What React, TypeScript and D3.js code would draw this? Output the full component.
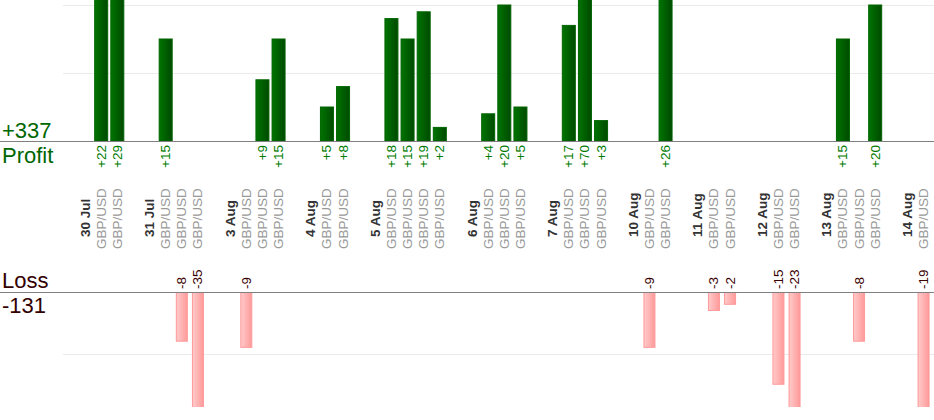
import React, { useEffect, useRef } from 'react';
import * as d3 from 'd3';

// trading days, and the closed trades of each day (all GBP/USD)
const dates = ['30 Jul', '31 Jul', '3 Aug', '4 Aug', '5 Aug', '6 Aug', '7 Aug', '10 Aug', '11 Aug', '12 Aug', '13 Aug', '14 Aug'];
const pair = 'GBP/USD';
const results: number[][] = [
  [22, 29],
  [15, -8, -35],
  [-9, 9, 15],
  [5, 8],
  [18, 15, 19, 2],
  [4, 20, 5],
  [17, 70, 3],
  [-9, 26],
  [-3, -2],
  [-15, -23],
  [15, -8, 20],
  [-19],
];
const profitTicks = [10, 20];
const lossTicks = [10, 20];

type Slot = { id: string; kind: 'date' | 'trade' | 'gap'; label?: string; value?: number };

const FONT = '"Liberation Sans", Arial, sans-serif';

const App: React.FC = () => {
  const ref = useRef<SVGSVGElement | null>(null);

  useEffect(() => {
    if (!ref.current) return;
    const width = 934;
    const height = 420;
    const plotLeft = 63;

    const svg = d3.select(ref.current).attr('width', width).attr('height', height);
    svg.selectAll('*').remove();

    // one slot per date header, per trade, and a spacer after each day
    const slots: Slot[] = [];
    dates.forEach((d, i) => {
      slots.push({ id: `d${i}`, kind: 'date', label: d });
      results[i].forEach((v, j) => slots.push({ id: `t${i}_${j}`, kind: 'trade', label: pair, value: v }));
      slots.push({ id: `g${i}`, kind: 'gap' });
    });
    const trades = slots.filter((s) => s.kind === 'trade');
    const wins = trades.filter((s) => (s.value as number) > 0);
    const losses = trades.filter((s) => (s.value as number) < 0);

    const x = d3.scaleBand().domain(slots.map((s) => s.id)).range([77, 77 + slots.length * 16.125]);
    const cx = (s: Slot) => (x(s.id) || 0) + x.bandwidth() / 2;

    const profitBase = 141;
    const lossBase = 292;
    const yProfit = d3.scaleLinear().domain([0, 20]).range([profitBase, 5]);
    const yLoss = d3.scaleLinear().domain([0, 10]).range([lossBase, 353.5]);

    // gradients
    const defs = svg.append('defs');
    const g1 = defs.append('linearGradient').attr('id', 'gProfit').attr('x1', '0').attr('x2', '1').attr('y1', '0').attr('y2', '0');
    g1.append('stop').attr('offset', '0%').attr('stop-color', '#007400');
    g1.append('stop').attr('offset', '100%').attr('stop-color', '#004a00');
    const g2 = defs.append('linearGradient').attr('id', 'gLoss').attr('x1', '0').attr('x2', '1').attr('y1', '0').attr('y2', '0');
    g2.append('stop').attr('offset', '0%').attr('stop-color', '#ffcaca');
    g2.append('stop').attr('offset', '100%').attr('stop-color', '#ff9a9a');
    defs.append('clipPath').attr('id', 'cProfit').append('rect').attr('x', 0).attr('y', 0).attr('width', width).attr('height', profitBase);
    defs.append('clipPath').attr('id', 'cLoss').append('rect').attr('x', 0).attr('y', lossBase).attr('width', width).attr('height', 407 - lossBase);

    // grid lines
    svg.append('g').selectAll('line').data(profitTicks).enter().append('line')
      .attr('x1', plotLeft).attr('x2', width)
      .attr('y1', (d) => Math.round(yProfit(d)) + 0.5).attr('y2', (d) => Math.round(yProfit(d)) + 0.5)
      .attr('stroke', '#ebebeb');
    svg.append('g').attr('clip-path', 'url(#cLoss)').selectAll('line').data(lossTicks).enter().append('line')
      .attr('x1', plotLeft).attr('x2', width)
      .attr('y1', (d) => Math.round(yLoss(d)) + 0.5).attr('y2', (d) => Math.round(yLoss(d)) + 0.5)
      .attr('stroke', '#ebebeb');

    // profit bars
    svg.append('g').attr('clip-path', 'url(#cProfit)').selectAll('rect').data(wins).enter().append('rect')
      .attr('x', (d) => cx(d) - 6.5)
      .attr('y', (d) => yProfit(d.value as number))
      .attr('width', 13)
      .attr('height', (d) => profitBase - yProfit(d.value as number))
      .attr('fill', 'url(#gProfit)')
      .attr('stroke', '#006400')
      .attr('stroke-width', 1);

    // loss bars
    svg.append('g').attr('clip-path', 'url(#cLoss)').selectAll('rect').data(losses).enter().append('rect')
      .attr('x', (d) => cx(d) - 5.5)
      .attr('y', lossBase)
      .attr('width', 11)
      .attr('height', (d) => yLoss(-(d.value as number)) - lossBase)
      .attr('fill', 'url(#gLoss)')
      .attr('stroke', '#ff9999')
      .attr('stroke-width', 1);

    // base lines
    [profitBase, lossBase].forEach((b) => {
      svg.append('line').attr('x1', 0).attr('x2', width).attr('y1', b + 0.5).attr('y2', b + 0.5)
        .attr('stroke', '#808080').attr('stroke-width', 1);
    });

    // profit value labels
    svg.append('g').selectAll('text').data(wins).enter().append('text')
      .attr('transform', (d) => `translate(${cx(d)},${profitBase + 4}) rotate(-90)`)
      .attr('text-anchor', 'end')
      .attr('dy', '0.33em')
      .style('font-family', FONT)
      .style('font-size', '13.5px')
      .style('fill', '#007a00')
      .text((d) => `+${d.value}`);

    // loss value labels
    svg.append('g').selectAll('text').data(losses).enter().append('text')
      .attr('transform', (d) => `translate(${cx(d)},${lossBase - 3}) rotate(-90)`)
      .attr('text-anchor', 'start')
      .attr('dy', '0.33em')
      .style('font-family', FONT)
      .style('font-size', '13.5px')
      .style('fill', '#3a0000')
      .text((d) => `${d.value}`);

    // category labels: bold dates and pair names
    svg.append('g').selectAll('text').data(slots.filter((s) => s.kind !== 'gap')).enter().append('text')
      .attr('transform', (d) => `translate(${cx(d)},${d.kind === 'date' ? 237 : 249}) rotate(-90)`)
      .attr('text-anchor', 'start')
      .attr('dy', '0.33em')
      .style('font-family', FONT)
      .style('font-size', '13.5px')
      .style('font-weight', (d) => (d.kind === 'date' ? 'bold' : 'normal'))
      .style('fill', (d) => (d.kind === 'date' ? '#333333' : '#999999'))
      .text((d) => d.label as string);

    // totals on the left
    const totalProfit = d3.sum(wins, (d) => d.value as number);
    const totalLoss = d3.sum(losses, (d) => d.value as number);
    const left = [
      { t: `+${totalProfit}`, y: 138, c: '#006600' },
      { t: 'Profit', y: 163, c: '#006600' },
      { t: 'Loss', y: 288, c: '#330000' },
      { t: `${totalLoss}`, y: 313, c: '#330000' },
    ];
    svg.append('g').selectAll('text').data(left).enter().append('text')
      .attr('x', 2)
      .attr('y', (d) => d.y)
      .style('font-family', FONT)
      .style('font-size', '22px')
      .style('fill', (d) => d.c)
      .text((d) => d.t);
  }, []);

  return <svg ref={ref} style={{ position: 'absolute', left: 0, top: 0 }}></svg>;
};

export default App;
